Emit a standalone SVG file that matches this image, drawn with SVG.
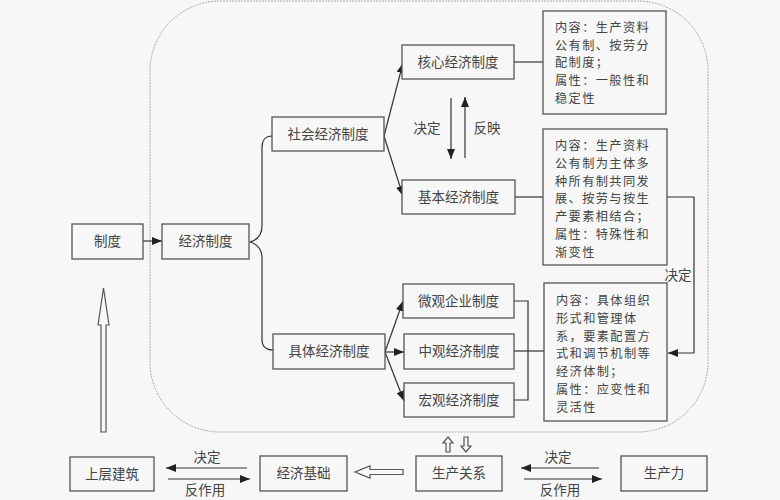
<svg xmlns="http://www.w3.org/2000/svg" width="780" height="500" viewBox="0 0 780 500">
<defs>
<marker id="ah" viewBox="0 0 10 8" refX="10" refY="4" markerWidth="10" markerHeight="8" markerUnits="userSpaceOnUse" orient="auto">
<path d="M0,0 L10,4 L0,8 Z" fill="#222"/>
</marker>
<style>
.bx{fill:#f7f7f7;stroke:#555;stroke-width:1.3}
.t{font-family:"Noto Sans CJK SC","Noto Sans",sans-serif;font-size:13.5px;fill:#444}
.p{font-size:12.2px;letter-spacing:1.4px}
.c{text-anchor:middle}
.ln{fill:none;stroke:#333;stroke-width:1.2}
.ar{fill:none;stroke:#333;stroke-width:1.2;marker-end:url(#ah)}
.ho{fill:#f7f7f7;stroke:#555;stroke-width:1.2}
</style>
</defs>
<rect x="0" y="0" width="780" height="500" fill="#f7f7f7"/>
<rect id="frame" x="150" y="1" width="558" height="431" rx="70" ry="70" fill="none" stroke="#aaa" stroke-width="1" stroke-dasharray="2,1"/>

<g id="connectors">
<path class="ar" d="M143,241 L162,241"/>
<path class="ln" d="M250,242 C257,240 262,236 262,226 L262,147 C262,140 266,136 272,136"/>
<path class="ln" d="M250,242 C257,244 262,248 262,258 L262,340 C262,346 266,350 273,350"/>
<path class="ar" d="M384,136 L403,63"/>
<path class="ar" d="M384,136 L403,196"/>
<path class="ar" d="M451,98 L451,159"/>
<path class="ar" d="M465,158 L465,97"/>
<path class="ln" d="M514,62 L543,62"/>
<path class="ln" d="M515,197 L543,197"/>
<path class="ar" d="M667,197 L694,197 L694,353 L668,353"/>
<path class="ar" d="M385,352 L403,301"/>
<path class="ar" d="M385,352 L404,352"/>
<path class="ar" d="M385,352 L404,401"/>
<path class="ln" d="M514,301 L528,301 L528,400 L514,400"/>
<path class="ln" d="M514,351 L544,351"/>
<path class="ar" d="M247,468 L166,468"/>
<path class="ar" d="M168,479 L250,479"/>
<path class="ar" d="M599,468 L521,468"/>
<path class="ar" d="M524,479 L602,479"/>
<path class="ho" d="M403,469.5 L370,469.5 L370,466 L355,472 L370,478 L370,474.5 L403,474.5 Z"/>
<path class="ho" d="M446,452 L446,443 L443,443 L448,437 L453,443 L450,443 L450,452 Z"/>
<path class="ho" d="M464,437 L464,446 L461,446 L466,452 L471,446 L468,446 L468,437 Z"/>
<path class="ho" d="M101,432 L101,325 L98,325 L103.5,288 L109,325 L106,325 L106,432 Z"/>
<text class="t c" x="427" y="133">决定</text>
<text class="t c" x="487" y="133">反映</text>
<text class="t c" x="678" y="280">决定</text>
<text class="t c" x="207" y="462">决定</text>
<text class="t c" x="205" y="495">反作用</text>
<text class="t c" x="558" y="462">决定</text>
<text class="t c" x="560" y="495">反作用</text>
</g>

<g id="n-zhidu"><rect class="bx" x="72" y="224" width="71" height="35"/><text class="t c" x="107.5" y="246">制度</text></g>
<g id="n-jingjizhidu"><rect class="bx" x="162" y="224" width="87" height="35"/><text class="t c" x="205.5" y="246">经济制度</text></g>
<g id="n-shehui"><rect class="bx" x="272" y="117" width="112" height="34"/><text class="t c" x="328" y="139">社会经济制度</text></g>
<g id="n-juti"><rect class="bx" x="273" y="334" width="112" height="35"/><text class="t c" x="329" y="356">具体经济制度</text></g>
<g id="n-hexin"><rect class="bx" x="402" y="45" width="112" height="34"/><text class="t c" x="458" y="67">核心经济制度</text></g>
<g id="n-jiben"><rect class="bx" x="402" y="180" width="113" height="34"/><text class="t c" x="458.5" y="202">基本经济制度</text></g>
<g id="n-weiguan"><rect class="bx" x="403" y="284" width="111" height="34"/><text class="t c" x="458.5" y="306">微观企业制度</text></g>
<g id="n-zhongguan"><rect class="bx" x="404" y="334" width="110" height="35"/><text class="t c" x="459" y="356">中观经济制度</text></g>
<g id="n-hongguan"><rect class="bx" x="404" y="383" width="110" height="34"/><text class="t c" x="459" y="405">宏观经济制度</text></g>

<g id="n-box1"><rect class="bx" x="543" y="11" width="123" height="103"/>
<text class="t p" x="555"><tspan x="555" y="32">内容：生产资料</tspan><tspan x="555" y="49.7">公有制、按劳分</tspan><tspan x="555" y="67.4">配制度；</tspan><tspan x="555" y="85.1">属性：一般性和</tspan><tspan x="555" y="102.8">稳定性</tspan></text></g>
<g id="n-box2"><rect class="bx" x="543" y="129" width="124" height="136"/>
<text class="t p" x="555"><tspan x="555" y="150">内容：生产资料</tspan><tspan x="555" y="167.8">公有制为主体多</tspan><tspan x="555" y="185.6">种所有制共同发</tspan><tspan x="555" y="203.4">展、按劳与按生</tspan><tspan x="555" y="221.2">产要素相结合；</tspan><tspan x="555" y="239">属性：特殊性和</tspan><tspan x="555" y="256.8">渐变性</tspan></text></g>
<g id="n-box3"><rect class="bx" x="544" y="283" width="123" height="138"/>
<text class="t p" x="556"><tspan x="556" y="305">内容：具体组织</tspan><tspan x="556" y="322.8">形式和管理体</tspan><tspan x="556" y="340.6">系，要素配置方</tspan><tspan x="556" y="358.4">式和调节机制等</tspan><tspan x="556" y="376.2">经济体制；</tspan><tspan x="556" y="394">属性：应变性和</tspan><tspan x="556" y="411.8">灵活性</tspan></text></g>

<g id="n-shangceng"><rect class="bx" x="70" y="457" width="84" height="34"/><text class="t c" x="112" y="479">上层建筑</text></g>
<g id="n-jichu"><rect class="bx" x="260" y="456" width="87" height="35"/><text class="t c" x="303.5" y="478">经济基础</text></g>
<g id="n-guanxi"><rect class="bx" x="416" y="456" width="86" height="35"/><text class="t c" x="459" y="478">生产关系</text></g>
<g id="n-shengchanli"><rect class="bx" x="621" y="456" width="86" height="35"/><text class="t c" x="664" y="478">生产力</text></g>
</svg>
